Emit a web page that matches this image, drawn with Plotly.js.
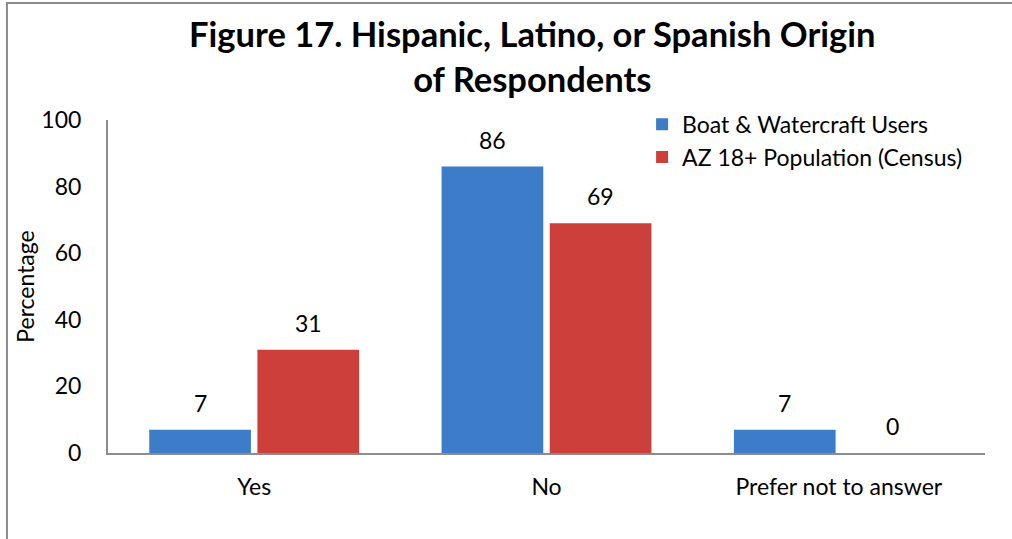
<!DOCTYPE html>
<html>
<head>
<meta charset="utf-8">
<script src="https://cdn.plot.ly/plotly-3.0.1.min.js"></script>
<style>
  html, body { margin: 0; padding: 0; background: #ffffff; }
  #chart { width: 1012px; height: 539px; }
</style>
</head>
<body>
<div id="chart"></div>
<script>
// ---- data ----
const categories = ["Yes", "No", "Prefer not to answer"];
const seriesNames = ["Boat & Watercraft Users", "AZ 18+ Population (Census)"];
const boatUsers = [7, 86, 7];
const azPopulation = [31, 69, 0];
const yTicks = [0, 20, 40, 60, 80, 100];

const FONT = "Lato, 'DejaVu Sans', sans-serif";
const TXT = 23;
const blue = "#3d7cc9";
const red = "#cc3f3b";

const traces = [
  {
    type: "bar", name: seriesNames[0], x: categories, y: boatUsers,
    marker: { color: blue, line: { width: 0 } },
    hoverinfo: "none"
  },
  {
    type: "bar", name: seriesNames[1], x: categories, y: azPopulation,
    marker: { color: red, line: { width: 0 } },
    hoverinfo: "none"
  }
];

// data labels, placed through the axes
const annotations = [];
const allSeries = [boatUsers, azPopulation];
const shifts = [-54, 54];
allSeries.forEach((vals, si) => {
  vals.forEach((v, ci) => {
    annotations.push({
      x: categories[ci], y: v, xref: "x", yref: "y",
      text: String(v), showarrow: false,
      xshift: shifts[si], yshift: 27,
      font: { family: FONT, size: TXT, color: "#000000" }
    });
  });
});

const layout = {
  width: 1012, height: 539,
  paper_bgcolor: "#ffffff", plot_bgcolor: "#ffffff",
  margin: { l: 108, r: 27, t: 120, b: 86 },
  font: { family: FONT, size: TXT, color: "#000000" },
  title: {
    text: "<b>Figure 17. Hispanic, Latino, or Spanish Origin<br>of Respondents</b>",
    font: { family: FONT, size: 34.5, color: "#000000" },
    x: 0.526, xanchor: "center", xref: "container",
    y: 0.913, yanchor: "top", yref: "container"
  },
  barmode: "group",
  bargap: 0.26,
  bargroupgap: 0.06,
  showlegend: true,
  legend: {
    x: 0.609, y: 1.052, xanchor: "left", yanchor: "top",
    font: { family: FONT, size: TXT, color: "#000000" },
    bgcolor: "rgba(0,0,0,0)", traceorder: "normal"
  },
  xaxis: {
    type: "category",
    showline: true, linecolor: "#8c8c8c", linewidth: 2,
    ticks: "", showgrid: false, zeroline: false,
    ticklabelstandoff: 12,
    tickfont: { family: FONT, size: TXT, color: "#000000" },
    fixedrange: true
  },
  yaxis: {
    range: [0, 100],
    tickvals: yTicks, ticktext: yTicks.map(String),
    showline: true, linecolor: "#8c8c8c", linewidth: 2,
    ticks: "", showgrid: false, zeroline: false,
    ticklabelstandoff: 20,
    tickfont: { family: FONT, size: TXT, color: "#000000" },
    title: { text: "Percentage", font: { family: FONT, size: TXT, color: "#000000" }, standoff: 0 },
    fixedrange: true
  },
  annotations: annotations,
  shapes: [{
    type: "rect", xref: "paper", yref: "paper",
    x0: -0.1152, x1: 1.2, y0: -0.6, y1: 1.351,
    line: { color: "#8c8c8c", width: 2 }, fillcolor: "rgba(0,0,0,0)", layer: "below"
  }]
};

Plotly.newPlot("chart", traces, layout, { displayModeBar: false, staticPlot: true });
</script>
</body>
</html>
